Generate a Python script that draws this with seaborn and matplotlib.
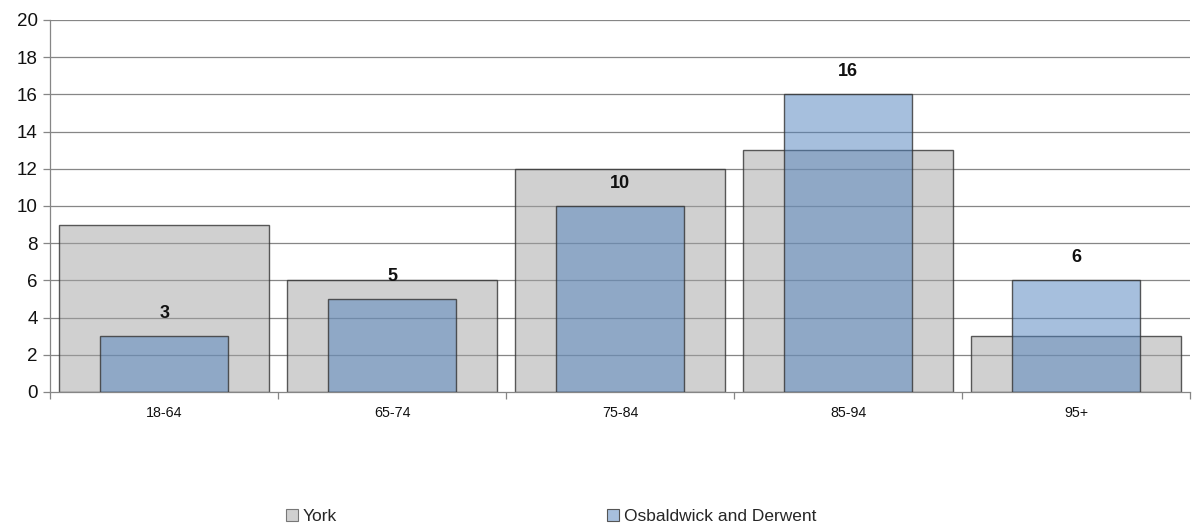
import matplotlib
matplotlib.use("Agg")
import matplotlib.pyplot as plt
import seaborn as sns
import pandas as pd
from matplotlib.patches import Patch
from matplotlib.ticker import FixedLocator

categories = ["18-64", "65-74", "75-84", "85-94", "95+"]
york = [9, 6, 12, 13, 3]
osbaldwick = [3, 5, 10, 16, 6]
series_names = ["York", "Osbaldwick and Derwent"]

sns.set_theme(style="white")
plt.rcParams['font.family'] = ['Liberation Sans', 'DejaVu Sans']

df = pd.DataFrame({"cat": categories, "york": york, "osb": osbaldwick})

fig = plt.figure(figsize=(11.95, 5.30), dpi=100)
ax = fig.add_axes([0.042, 0.2604, 0.954, 0.7019])

grid_c = "#868686"
for v in range(2, 21, 2):
    ax.axhline(v, color=grid_c, lw=0.9, zorder=0)

sns.barplot(data=df, x="cat", y="york", ax=ax, width=0.92, color="#a2a2a2",
            alpha=0.5, linewidth=1.0, saturation=1, zorder=2)
sns.barplot(data=df, x="cat", y="osb", ax=ax, width=0.56, color="#4F81BD",
            alpha=0.5, linewidth=1.0, saturation=1, zorder=3)
for p in ax.patches:
    fc = p.get_facecolor()
    p.set_alpha(None)
    p.set_facecolor((fc[0], fc[1], fc[2], 0.5))
    p.set_edgecolor((0.2, 0.2, 0.2, 0.8))

for i, v in enumerate(osbaldwick):
    ax.text(i, v + 0.75, str(v), ha="center", va="bottom", fontsize=13,
            fontweight="bold", color="#111111")

ax.set_xlim(-0.5, 4.5)
ax.set_ylim(0, 20)
ax.set_yticks(range(0, 21, 2))
ax.tick_params(axis="y", labelsize=13.5, length=5, width=0.9, color=grid_c,
               left=True, direction="out", pad=4, labelcolor="#111111")
ax.tick_params(axis="x", labelsize=10.3, length=0, pad=10, labelcolor="#111111")
ax.xaxis.set_minor_locator(FixedLocator([-0.5, 0.5, 1.5, 2.5, 3.5, 4.5]))
ax.tick_params(axis="x", which="minor", length=5, width=0.9, color=grid_c,
               bottom=True, direction="out")
ax.set_xlabel("")
ax.set_ylabel("")
for s in ["top", "right"]:
    ax.spines[s].set_visible(False)
for s in ["left", "bottom"]:
    ax.spines[s].set_color(grid_c)
    ax.spines[s].set_linewidth(0.9)

handles = [Patch(facecolor="#d0d0d0", edgecolor="#777777", lw=0.8),
           Patch(facecolor="#a7bfdd", edgecolor="#555555", lw=0.8)]
fig.legend(handles, series_names, loc="center", bbox_to_anchor=(0.461, 0.025),
           ncol=2, frameon=False, fontsize=12.5, handlelength=0.7,
           handleheight=0.7, handletextpad=0.25, columnspacing=15.6)

fig.savefig("out.png", dpi=100)
